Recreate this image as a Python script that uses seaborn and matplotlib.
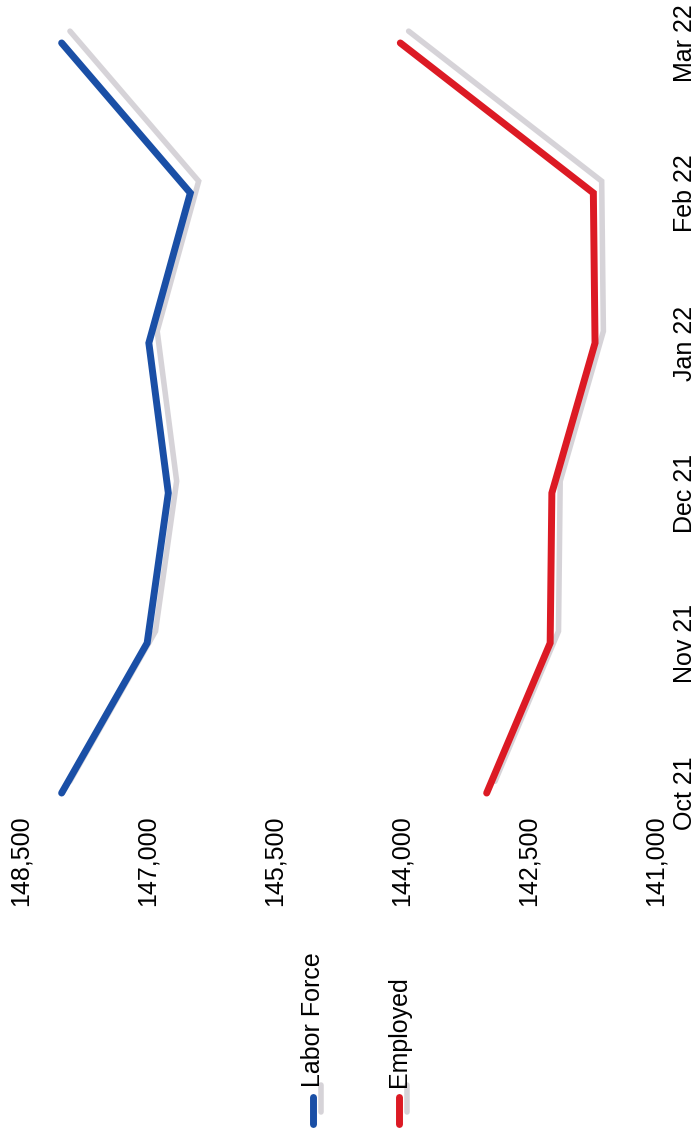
import seaborn as sns
import pandas as pd
import matplotlib.pyplot as plt
import matplotlib.patheffects as pe
from matplotlib.lines import Line2D

months = ["Oct 21", "Nov 21", "Dec 21", "Jan 22", "Feb 22", "Mar 22"]
labor_force = [148020, 147010, 146760, 146990, 146500, 148020]
employed = [143000, 142250, 142230, 141720, 141740, 144020]
value_ticks = [148500, 147000, 145500, 144000, 142500, 141000]
series_names = ["Labor Force", "Employed"]
colors = ["#1a4fa6", "#dc1a24"]

rows = []
for i in range(len(months)):
    rows.append([i, labor_force[i], "Labor Force"])
    rows.append([i, employed[i], "Employed"])
df = pd.DataFrame(rows, columns=["pos", "value", "series"])

sns.set_style("white")
plt.rcParams['font.family'] = ['Liberation Sans', 'DejaVu Sans']
plt.rcParams['text.color'] = 'black'
plt.rcParams['xtick.color'] = 'black'
plt.rcParams['ytick.color'] = 'black'

W, H = 696, 1135
fig = plt.figure(figsize=(W / 100, H / 100), dpi=100)
fig.patch.set_facecolor("white")
ax = fig.add_axes([21 / W, (H - 810) / H, 635 / W, 790 / H])

shadow = [pe.SimpleLineShadow(offset=(6, 8.5), shadow_color="#d2cfd4", alpha=0.9, linewidth=4),
          pe.Normal()]

graph = sns.lineplot(data=df, x="value", y="pos", hue="series", hue_order=series_names,
                     palette=colors, orient="y", sort=False, estimator=None,
                     linewidth=5, legend=False, ax=ax)
for line in graph.lines:
    line.set_solid_capstyle("round")
    line.set_solid_joinstyle("miter")
    line.set_path_effects(shadow)

graph.set_xlim(148500, 141000)
graph.set_ylim(-0.113, 5.153)
graph.set_xticks(value_ticks, [f"{v:,}" for v in value_ticks], rotation=90, fontsize=18)
graph.yaxis.tick_right()
graph.set_yticks(range(len(months)), months, rotation=90, fontsize=18, va="center", ha="left")
graph.tick_params(axis="x", length=0, pad=3.6)
graph.tick_params(axis="y", length=0, pad=12)
graph.set_xlabel("")
graph.set_ylabel("")
for s in graph.spines.values():
    s.set_visible(False)
graph.grid(False)

# legend, drawn sideways like the rest
leg_x = [313, 399]
for name, c, lx in zip(series_names, colors, leg_x):
    fig.text(lx / W, 1 - 1087 / H, name, rotation=90, ha="center", va="bottom", fontsize=18)
    mk = Line2D([lx / W, lx / W], [1 - 1097 / H, 1 - 1124 / H], transform=fig.transFigure,
                color=c, lw=5, solid_capstyle="round")
    mk.set_path_effects(shadow)
    fig.add_artist(mk)

fig.savefig("out.png", dpi=100, facecolor="white")
